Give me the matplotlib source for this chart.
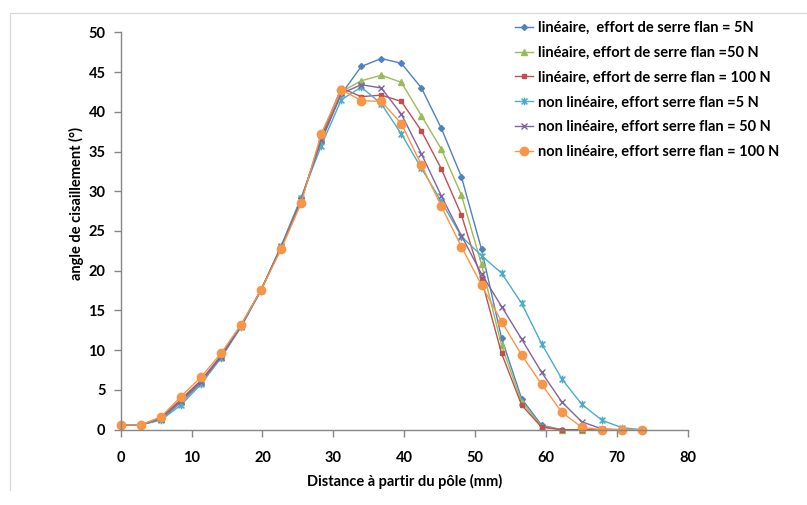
import matplotlib
matplotlib.use("Agg")
import matplotlib.pyplot as plt
from matplotlib.path import Path
from matplotlib.lines import Line2D

plt.rcParams['font.family'] = ['Lato', 'DejaVu Sans']

distance = [0, 2.83, 5.66, 8.49, 11.31, 14.14, 16.97, 19.8, 22.63, 25.46, 28.28,
            31.11, 33.94, 36.77, 39.6, 42.43, 45.25, 48.08, 50.91, 53.74, 56.57,
            59.4, 62.23, 65.05, 67.88, 70.71, 73.54]

lin_5N = [0.6, 0.6, 1.3, 3.4, 5.9, 9.1, 13.0, 17.6, 23.0, 29.1, 36.3, 42.2, 45.7,
          46.7, 46.1, 43.0, 37.9, 31.8, 22.7, 11.5, 3.9, 0.55, 0, 0, 0, 0, 0]
lin_50N = [0.6, 0.6, 1.4, 3.5, 6.0, 9.2, 13.1, 17.6, 23.0, 29.0, 36.5, 42.5, 43.9,
           44.6, 43.7, 39.5, 35.3, 29.5, 20.8, 10.6, 3.5, 0.4, 0, 0, 0, 0, 0]
lin_100N = [0.6, 0.6, 1.5, 3.8, 6.2, 9.3, 13.1, 17.6, 22.9, 28.8, 36.8, 43.0, 41.9,
            42.1, 41.3, 37.6, 32.8, 27.0, 18.9, 9.6, 3.1, 0.3, 0, 0, 0, 0, 0]
nl_5N = [0.6, 0.6, 1.2, 3.1, 5.7, 9.0, 12.9, 17.5, 23.1, 29.2, 35.7, 41.5, 43.1,
         41.0, 37.2, 32.9, 28.7, 24.3, 21.9, 19.7, 15.9, 10.8, 6.4, 3.2, 1.2, 0.25, 0]
nl_50N = [0.6, 0.6, 1.4, 3.6, 6.0, 9.2, 13.0, 17.6, 23.0, 28.9, 36.4, 42.3, 43.4,
          43.0, 39.7, 34.7, 29.4, 24.4, 19.6, 15.5, 11.4, 7.2, 3.5, 1.0, 0.1, 0, 0]
nl_100N = [0.6, 0.6, 1.6, 4.15, 6.6, 9.6, 13.2, 17.6, 22.7, 28.5, 37.2, 42.8, 41.4,
           41.3, 38.5, 33.3, 28.1, 23.0, 18.2, 13.6, 9.4, 5.7, 2.2, 0.3, 0, 0, 0]

labels = ["linéaire,  effort de serre flan = 5N",
          "linéaire, effort de serre flan =50 N",
          "linéaire, effort de serre flan = 100 N",
          "non linéaire, effort serre flan =5 N",
          "non linéaire, effort serre flan = 50 N",
          "non linéaire, effort serre flan = 100 N"]

star = Path([(-1, -1), (1, 1), (-1, 1), (1, -1), (0, -1.3), (0, 1.3)],
            [Path.MOVETO, Path.LINETO, Path.MOVETO, Path.LINETO, Path.MOVETO, Path.LINETO])

W, H = 807, 505
fig = plt.figure(figsize=(W / 100, H / 100), dpi=100)
# outer chart-area frame (left and top edges visible)
fig.lines.append(Line2D([10 / W, 10 / W, 806 / W], [1 - 490 / H, 1 - 13 / H, 1 - 13 / H],
                        transform=fig.transFigure, color='#d9d9d9', linewidth=0.9))

ax = fig.add_axes([120.7 / W, 1 - 429.7 / H, (687.7 - 120.7) / W, (429.7 - 32.3) / H])

series = [
    (lin_5N, '#4F81BD', dict(marker='D', markersize=3)),
    (lin_50N, '#9BBB59', dict(marker='^', markersize=4)),
    (lin_100N, '#C0504D', dict(marker='s', markersize=3.5)),
    (nl_5N, '#4BACC6', dict(marker=star, markersize=5.5, markeredgewidth=1.1)),
    (nl_50N, '#8064A2', dict(marker='x', markersize=5, markeredgewidth=1.0)),
    (nl_100N, '#F79646', dict(marker='o', markersize=6)),
]
for (vals, col, mk), lab in zip(series, labels):
    ax.plot(distance, vals, color=col, linewidth=1.0, label=lab,
            markerfacecolor=col, markeredgecolor=col, clip_on=False, **mk)

ax.set_xlim(0, 80)
ax.set_ylim(0, 50)
ax.set_xticks(range(0, 81, 10))
ax.set_yticks(range(0, 51, 5))
for s in ['top', 'right']:
    ax.spines[s].set_visible(False)
for s in ['left', 'bottom']:
    ax.spines[s].set_color('#868686')
    ax.spines[s].set_linewidth(1.0)
ax.tick_params(axis='both', direction='out', color='#868686', length=5, width=1,
               labelsize=10.5)
ax.tick_params(axis='x', pad=10)
ax.tick_params(axis='y', pad=6)
for t in ax.get_xticklabels() + ax.get_yticklabels():
    t.set_fontweight('bold')

ax.set_xlabel("Distance à partir du pôle (mm)", fontsize=10.5, fontweight='bold')
ax.xaxis.set_label_coords(0.5, -(481 - 429.7) / 397.4, transform=ax.transAxes)
ax.xaxis.label.set_va('center')
ax.set_ylabel("angle de cisaillement (°)", fontsize=10.5, fontweight='bold')
ax.yaxis.set_label_coords(-(120.7 - 76) / 567.0, (429.7 - 204) / 397.4)
ax.yaxis.label.set_va('center')

leg = fig.legend(loc='upper left', bbox_to_anchor=(515 / W, 1 - 21 / H), frameon=False,
                 prop={'weight': 'bold', 'size': 10.5},
                 handlelength=1.25, handletextpad=0.3, labelspacing=0.74,
                 borderpad=0, borderaxespad=0)

fig.savefig("out.png", dpi=100)
